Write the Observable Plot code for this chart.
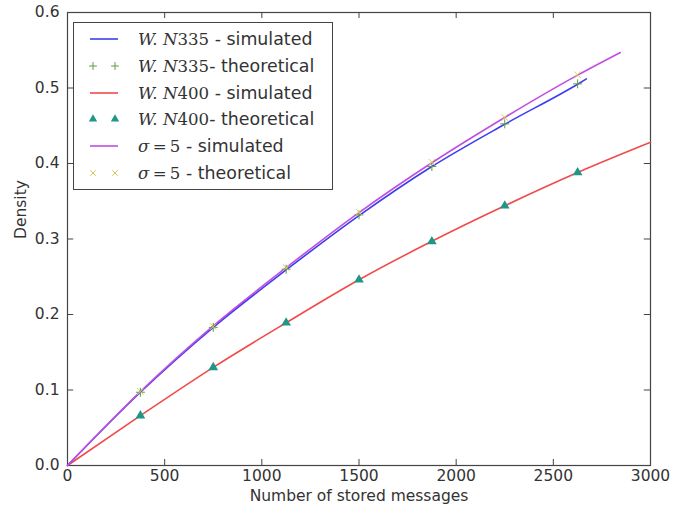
<!DOCTYPE html>
<html><head><meta charset="utf-8">
<script src="https://cdn.jsdelivr.net/npm/d3@7"></script>
<script src="https://cdn.jsdelivr.net/npm/@observablehq/plot@0.6"></script>
<style>
body{margin:0;background:#fff;}
#wrap{position:relative;width:682px;height:512px;}
#legend{position:absolute;left:73px;top:22px;width:260px;height:168px;border:1px solid #444;background:#fff;box-sizing:border-box;font-family:"DejaVu Sans",sans-serif;font-size:17.4px;color:#333;}
.row{position:absolute;left:0;height:20px;display:flex;align-items:center;}
.row svg{margin-left:14px;width:32px;height:20px;flex:none;}
.row .lab{margin-left:18px;white-space:nowrap;}
.m{font-family:"DejaVu Serif",serif;font-style:italic;font-size:16.6px;}
.u{font-family:"DejaVu Serif",serif;font-style:normal;font-size:16.6px;}
</style></head>
<body><div id="wrap"><div id="chart"></div><div id="legend"></div></div>
<script>
const xTicks = [0, 500, 1000, 1500, 2000, 2500, 3000];
const yTicks = [0, 0.1, 0.2, 0.3, 0.4, 0.5, 0.6];

const n335SimX = [0, 375, 750, 1125, 1500, 1875, 2250, 2625, 2670];
const n335SimY = [0, 0.097, 0.183, 0.259, 0.331, 0.396, 0.452, 0.505, 0.512];
const n335TheoX = [375, 750, 1125, 1500, 1875, 2250, 2625];
const n335TheoY = [0.097, 0.183, 0.260, 0.332, 0.396, 0.4525, 0.5055];

const n400SimX = [0, 375, 750, 1125, 1500, 1875, 2250, 2625, 3000];
const n400SimY = [0, 0.066, 0.130, 0.189, 0.246, 0.297, 0.344, 0.388, 0.428];
const n400TheoX = [375, 750, 1125, 1500, 1875, 2250, 2625];
const n400TheoY = [0.066, 0.130, 0.189, 0.246, 0.2967, 0.344, 0.388];

const sigSimX = [0, 375, 750, 1125, 1500, 1875, 2250, 2625, 2845];
const sigSimY = [0, 0.098, 0.185, 0.262, 0.335, 0.401, 0.461, 0.517, 0.547];
const sigTheoX = [375, 750, 1125, 1500, 1875, 2250, 2625];
const sigTheoY = [0.098, 0.184, 0.262, 0.3355, 0.4017, 0.461, 0.5175];

const colors = {n335: "#3d3df0", n400: "#f24a4a", sig: "#c04ee0", plus: "#5f9a4a", tri: "#1f9688", times: "#d2cc5a"};

const zip = (xs, ys) => xs.map((x, i) => ({x, y: ys[i]}));

const fnt = "DejaVu Sans, sans-serif";
const fs = 15.5;
const plot = Plot.plot({
  width: 682, height: 512,
  marginLeft: 67, marginRight: 32, marginTop: 12, marginBottom: 47,
  style: {fontFamily: fnt, fontSize: fs + "px", color: "#333", background: "#fff"},
  x: {domain: [0, 3000]},
  y: {domain: [0, 0.6]},
  marks: [
    Plot.frame({stroke: "#444", strokeWidth: 1.2}),
    Plot.ruleX(xTicks.slice(1, -1), {x: d => d, y1: 0, y2: 0.008, stroke: "#444"}),
    Plot.ruleX(xTicks.slice(1, -1), {x: d => d, y1: 0.6, y2: 0.592, stroke: "#444"}),
    Plot.ruleY(yTicks.slice(1, -1), {y: d => d, x1: 0, x2: 32, stroke: "#444"}),
    Plot.ruleY(yTicks.slice(1, -1), {y: d => d, x1: 3000, x2: 2968, stroke: "#444"}),
    Plot.axisX({ticks: xTicks, tickSize: 0, tickPadding: 4, tickFormat: d => String(d), label: null, fontSize: fs}),
    Plot.axisY({ticks: yTicks, tickSize: 0, tickPadding: 8, tickFormat: d => d.toFixed(1), label: null, fontSize: fs}),
    Plot.text(["Number of stored messages"], {frameAnchor: "bottom", dy: 35, text: d => d, fontSize: fs, fill: "#333"}),
    Plot.text(["Density"], {frameAnchor: "left", dx: -46, rotate: -90, text: d => d, fontSize: fs, fill: "#333"}),
    Plot.line(zip(n400SimX, n400SimY), {x: "x", y: "y", stroke: colors.n400, strokeWidth: 1.6, curve: "monotone-x"}),
    Plot.line(zip(n335SimX, n335SimY), {x: "x", y: "y", stroke: colors.n335, strokeWidth: 1.6, curve: "monotone-x"}),
    Plot.line(zip(sigSimX, sigSimY), {x: "x", y: "y", stroke: colors.sig, strokeWidth: 1.6, curve: "monotone-x"}),
    Plot.dot(zip(n335TheoX, n335TheoY), {x: "x", y: "y", symbol: "plus", r: 3, stroke: colors.plus, fill: "none", strokeWidth: 1}),
    Plot.dot(zip(n400TheoX, n400TheoY), {x: "x", y: "y", symbol: "triangle", r: 3.6, fill: colors.tri, stroke: "none"}),
    Plot.dot(zip(sigTheoX, sigTheoY), {x: "x", y: "y", symbol: "times", r: 3, stroke: colors.times, fill: "none", strokeWidth: 1})
  ]
});
document.getElementById("chart").appendChild(plot);

const legendItems = [
  {type: "line", color: colors.n335, html: '<span class="m">W.</span> <span class="m">N</span><span class="u">335</span> - simulated'},
  {type: "plus", color: colors.plus, html: '<span class="m">W.</span> <span class="m">N</span><span class="u">335</span>- theoretical'},
  {type: "line", color: colors.n400, html: '<span class="m">W.</span> <span class="m">N</span><span class="u">400</span> - simulated'},
  {type: "tri", color: colors.tri, html: '<span class="m">W.</span> <span class="m">N</span><span class="u">400</span>- theoretical'},
  {type: "line", color: colors.sig, html: '<span class="m">σ</span><span class="u">&#8201;=&#8201;5</span> - simulated'},
  {type: "times", color: colors.times, html: '<span class="m">σ</span><span class="u">&#8201;=&#8201;5</span> - theoretical'}
];
const leg = document.getElementById("legend");
legendItems.forEach((it, i) => {
  const row = document.createElement("div");
  row.className = "row";
  row.style.top = (6 + i * 26.8) + "px";
  let g = "";
  if (it.type === "line") g = `<line x1="2" x2="30" y1="10" y2="10" stroke="${it.color}" stroke-width="1.6"/>`;
  else {
    const sym = it.type === "plus" ? d3.symbolPlus : it.type === "tri" ? d3.symbolTriangle : d3.symbolTimes;
    const size = it.type === "tri" ? 30 : 22;
    const p = d3.symbol(sym, size)();
    const st = it.type === "tri" ? `fill="${it.color}"` : `fill="none" stroke="${it.color}" stroke-width="1"`;
    g = `<path transform="translate(5,10)" d="${p}" ${st}/><path transform="translate(27,10)" d="${p}" ${st}/>`;
  }
  row.innerHTML = `<svg viewBox="0 0 32 20">${g}</svg><span class="lab">${it.html}</span>`;
  leg.appendChild(row);
});
</script></body></html>
